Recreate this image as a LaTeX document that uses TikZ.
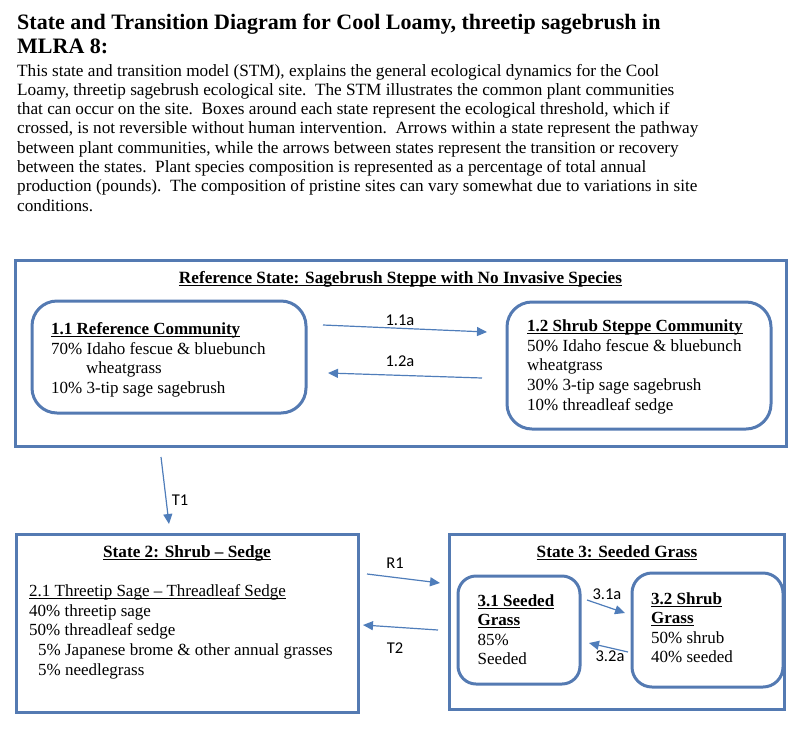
\documentclass[tikz,border=0pt]{standalone}
\usepackage{fontspec}
\setmainfont{Liberation Serif}
\newfontfamily\lblfont{Carlito}
\usetikzlibrary{arrows.meta}
\definecolor{boxblue}{RGB}{84,122,178}
\definecolor{arrblue}{RGB}{79,125,186}
\newcommand{\myul}[1]{\setbox0\hbox{#1}\rlap{\rule[-2.6pt]{\wd0}{1.1pt}}\box0}
\tikzset{
  statebox/.style={draw=boxblue, line width=3pt, inner sep=0pt, minimum width=#1},
  commbox/.style={draw=boxblue, line width=3pt, inner sep=0pt, rounded corners=25pt},
  txt/.style={anchor=base west, inner sep=0pt, font=\fontsize{17}{19}\selectfont},
  ttl/.style={anchor=base, inner sep=0pt, font=\fontsize{17.2}{19}\selectfont\bfseries},
  body/.style={anchor=base west, inner sep=0pt, font=\fontsize{17.2}{19}\selectfont},
  head/.style={anchor=base west, inner sep=0pt, font=\fontsize{22}{25}\selectfont\bfseries},
  lbl/.style={inner sep=0pt, font=\lblfont\fontsize{16.5}{18}\selectfont},
  conn/.style={draw=arrblue, line width=1.2pt, -{Triangle[width=9pt,length=10pt]}}
}
\begin{document}
\begin{tikzpicture}[x=1pt,y=-1pt]
\useasboundingbox (0,0) rectangle (800,737);
% heading
\node[head] (h1) at (17,29) {State and Transition Diagram for Cool Loamy, threetip sagebrush in};
\node[head] (h2) at (17,53) {MLRA 8:};
\node[body] (b1) at (17,76) {This state and transition model (STM), explains the general ecological dynamics for the Cool};
\node[body] (b2) at (17,95.3) {Loamy, threetip sagebrush ecological site.\ \ The STM illustrates the common plant communities};
\node[body] (b3) at (17,114.6) {that can occur on the site.\ \ Boxes around each state represent the ecological threshold, which if};
\node[body] (b4) at (17,133.9) {crossed, is not reversible without human intervention.\ \ Arrows within a state represent the pathway};
\node[body] (b5) at (17,153.2) {between plant communities, while the arrows between states represent the transition or recovery};
\node[body] (b6) at (17,172.5) {between the states.\ \ Plant species composition is represented as a percentage of total annual};
\node[body] (b7) at (17,191.8) {production (pounds).\ \ The composition of pristine sites can vary somewhat due to variations in site};
\node[body] (b8) at (17,211.1) {conditions.};
% state boxes
\node[statebox=771pt, minimum height=186pt] (ref) at (400.5,353) {};
\node[statebox=342pt, minimum height=178pt] (s2) at (187,623) {};
\node[statebox=335pt, minimum height=175pt] (s3) at (616.5,621.5) {};
% community boxes
\node[commbox, minimum width=274pt, minimum height=112pt] (c11) at (169,357) {};
\node[commbox, minimum width=264pt, minimum height=127pt] (c12) at (639,365.5) {};
\node[commbox, rounded corners=18pt, minimum width=122pt, minimum height=108pt] (c31) at (519,630) {};
\node[commbox, rounded corners=20pt, minimum width=151pt, minimum height=114pt] (c32) at (707.5,630) {};
% titles
\node[ttl] (tref) at (400.5,283) {\myul{Reference State: Sagebrush Steppe with No Invasive Species}};
\node[ttl] (ts2) at (187,557) {\myul{State 2: Shrub -- Sedge}};
\node[ttl] (ts3) at (617,557) {\myul{State 3: Seeded Grass}};
% 1.1
\node[txt] (t11a) at (51,334) {\bfseries\myul{1.1 Reference Community}};
\node[txt] (t11b) at (51,354) {70\% Idaho fescue \& bluebunch};
\node[txt] (t11c) at (86,373.5) {wheatgrass};
\node[txt] (t11d) at (51,393) {10\% 3-tip sage sagebrush};
% 1.2
\node[txt] (t12a) at (527,331) {\bfseries\myul{1.2 Shrub Steppe Community}};
\node[txt] (t12b) at (527,351) {50\% Idaho fescue \& bluebunch};
\node[txt] (t12c) at (527,370.5) {wheatgrass};
\node[txt] (t12d) at (527,390) {30\% 3-tip sage sagebrush};
\node[txt] (t12e) at (527,410) {10\% threadleaf sedge};
% state 2
\node[txt] (t21a) at (29,596) {\myul{2.1 Threetip Sage -- Threadleaf Sedge}};
\node[txt] (t21b) at (29,616) {40\% threetip sage};
\node[txt] (t21c) at (29,635.5) {50\% threadleaf sedge};
\node[txt] (t21d) at (38,655) {5\% Japanese brome \& other annual grasses};
\node[txt] (t21e) at (38,675) {5\% needlegrass};
% 3.1
\node[txt] (t31a) at (477.5,606) {\bfseries\myul{3.1 Seeded}};
\node[txt] (t31b) at (477.5,625.5) {\bfseries\myul{Grass}};
\node[txt] (t31c) at (477.5,645) {85\%};
\node[txt] (t31d) at (477.5,664.5) {Seeded};
% 3.2
\node[txt] (t32a) at (651,604.5) {\bfseries\myul{3.2 Shrub}};
\node[txt] (t32b) at (651,623.5) {\bfseries\myul{Grass}};
\node[txt] (t32c) at (651,643) {50\% shrub};
\node[txt] (t32d) at (651,662.5) {40\% seeded};
% arrow end points
\coordinate (a11s) at (323,325); \coordinate (a11e) at (487,332);
\coordinate (a12s) at (482,378); \coordinate (a12e) at (328,373);
\coordinate (t1s) at (161,457);  \coordinate (t1e) at (169,524);
\coordinate (r1s) at (367,574);  \coordinate (r1e) at (440,583);
\coordinate (t2s) at (438,630);  \coordinate (t2e) at (363,625);
\coordinate (a31s) at (587,600); \coordinate (a31e) at (625,613);
\coordinate (a32s) at (628,652); \coordinate (a32e) at (589,643);
\draw[conn] (a11s) -- (a11e);
\draw[conn] (a12s) -- (a12e);
\draw[conn] (t1s) -- (t1e);
\draw[conn] (r1s) -- (r1e);
\draw[conn] (t2s) -- (t2e);
\draw[conn] (a31s) -- (a31e);
\draw[conn] (a32s) -- (a32e);
% labels
\node[lbl] (l11) at (400,320) {1.1a};
\node[lbl] (l12) at (400,361) {1.2a};
\node[lbl] (lt1) at (180,500) {T1};
\node[lbl] (lr1) at (395,563) {R1};
\node[lbl] (lt2) at (395,648) {T2};
\node[lbl] (l31) at (607,594) {3.1a};
\node[lbl] (l32) at (610,656) {3.2a};
\end{tikzpicture}
\end{document}
